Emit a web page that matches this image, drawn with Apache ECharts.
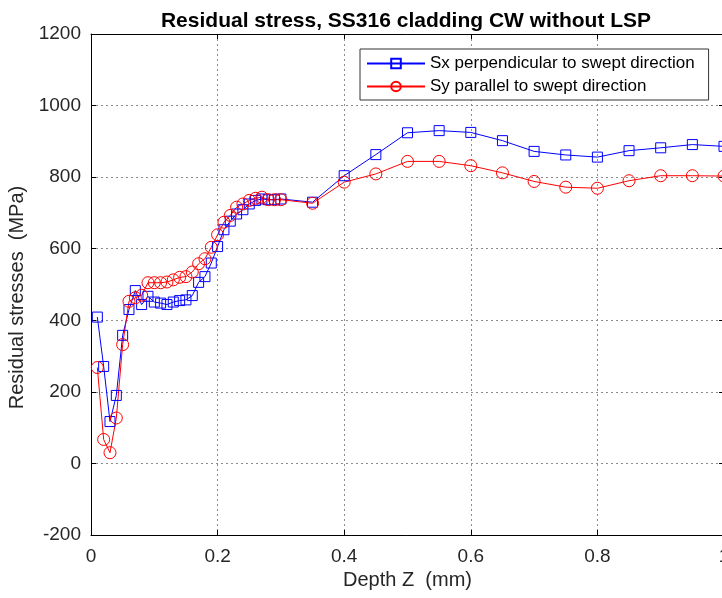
<!DOCTYPE html>
<html>
<head>
<meta charset="utf-8">
<script src="https://cdn.jsdelivr.net/npm/echarts@6/dist/echarts.min.js"></script>
<style>
html,body{margin:0;padding:0;background:#fff;}
#chart{width:722px;height:598px;}
</style>
</head>
<body>
<div id="chart"></div>
<script>
const depth = [0.01,0.02,0.03,0.04,0.05,0.06,0.07,0.08,0.09,0.10,
  0.11,0.12,0.13,0.14,0.15,0.16,0.17,0.18,0.19,0.20,
  0.21,0.22,0.23,0.24,0.25,0.26,0.27,0.28,0.29,0.30,
  0.35,0.40,0.45,0.50,0.55,0.60,0.65,0.70,0.75,0.80,0.85,0.90,0.95,1.00];
const sx = [409,271,117,190,358,430,483,444,467,451,
  448,444,451,455,457,469,506,522,560,606,
  653,677,697,709,725,735,739,737,737,739,
  730,804,863,924,930,925,902,872,862,856,874,882,891,886];
const sy = [268,67,30,127,332,453,463,470,505,505,
  505,507,513,520,522,535,558,572,604,639,
  674,693,716,725,735,741,744,737,737,737,
  727,786,809,844,844,832,812,788,772,769,790,804,804,803];
const xTicks = [0,0.2,0.4,0.6,0.8,1];
const yTicks = [-200,0,200,400,600,800,1000,1200];
const seriesNames = ['Sx perpendicular to swept direction','Sy parallel to swept direction'];
const titleText = 'Residual stress, SS316 cladding CW without LSP';

const FONT = '"Liberation Sans", Arial, Helvetica, sans-serif';
const chart = echarts.init(document.getElementById('chart'), null, {renderer:'canvas'});
const pairs = (ys) => depth.map((d,i)=>[d, ys[i]]);

const tickColor = '#262626';

chart.setOption({
  animation:false,
  backgroundColor:'#fff',
  title:{
    text:titleText, left:401, top:6, textAlign:'center',
    textStyle:{fontFamily:FONT, fontSize:21, fontWeight:'bold', color:'#000'}
  },
  legend:{
    orient:'vertical', left:360, top:49,
    data:seriesNames,
    backgroundColor:'#fff', borderColor:'#333', borderWidth:1,
    padding:[6,14,5,6], itemGap:6, itemWidth:58, itemHeight:12,
    textStyle:{fontFamily:FONT, fontSize:17, color:'#000'}
  },
  grid:{left:91, top:34, width:633, height:501, containLabel:false, outerBoundsMode:'none'},
  xAxis:[{
    type:'value', min:xTicks[0], max:xTicks[xTicks.length-1], interval:0.2, position:'bottom',
    name:'Depth Z  (mm)', nameLocation:'middle', nameGap:33,
    nameTextStyle:{fontFamily:FONT, fontSize:20, color:tickColor},
    axisLine:{show:true, onZero:false, lineStyle:{color:'#000', width:1}},
    axisTick:{show:true, inside:true, length:5, lineStyle:{color:'#000'}},
    axisLabel:{fontFamily:FONT, fontSize:19, color:tickColor, margin:12, formatter:(v)=>String(v)},
    splitLine:{show:true, lineStyle:{color:'#8c8c8c', type:[2,3], width:1}}
  },{
    type:'value', min:xTicks[0], max:xTicks[xTicks.length-1], interval:0.2, position:'top',
    axisLine:{show:true, onZero:false, lineStyle:{color:'#000', width:1}},
    axisTick:{show:true, inside:true, length:5, lineStyle:{color:'#000'}},
    axisLabel:{show:false}, splitLine:{show:false}
  }],
  yAxis:[{
    type:'value', min:yTicks[0], max:yTicks[yTicks.length-1], interval:200, position:'left',
    name:'Residual stresses  (MPa)', nameLocation:'middle', nameGap:51,
    nameTextStyle:{fontFamily:FONT, fontSize:20, color:tickColor, padding:[0,26,0,0]},
    axisLine:{show:true, onZero:false, lineStyle:{color:'#000', width:1}},
    axisTick:{show:true, inside:true, length:5, lineStyle:{color:'#000'}},
    axisLabel:{fontFamily:FONT, fontSize:19, color:tickColor, margin:10, formatter:(v)=>String(v)},
    splitLine:{show:true, lineStyle:{color:'#8c8c8c', type:[2,3], width:1}}
  },{
    type:'value', min:yTicks[0], max:yTicks[yTicks.length-1], interval:200, position:'right',
    axisLine:{show:true, onZero:false, lineStyle:{color:'#000', width:1}},
    axisTick:{show:true, inside:true, length:5, lineStyle:{color:'#000'}},
    axisLabel:{show:false}, splitLine:{show:false}
  }],
  series:[{
    name:seriesNames[0], type:'line', xAxisIndex:0, yAxisIndex:0,
    data:pairs(sx), symbol:'rect', symbolSize:10, showAllSymbol:true,
    lineStyle:{color:'#0000ff', width:1},
    itemStyle:{color:'rgba(255,255,255,0)', borderColor:'#0000ff', borderWidth:1},
    emphasis:{disabled:true}
  },{
    name:seriesNames[1], type:'line', xAxisIndex:0, yAxisIndex:0,
    data:pairs(sy), symbol:'circle', symbolSize:12, showAllSymbol:true,
    lineStyle:{color:'#ff0000', width:1},
    itemStyle:{color:'rgba(255,255,255,0)', borderColor:'#ff0000', borderWidth:1},
    emphasis:{disabled:true}
  }]
});
</script>
</body>
</html>
